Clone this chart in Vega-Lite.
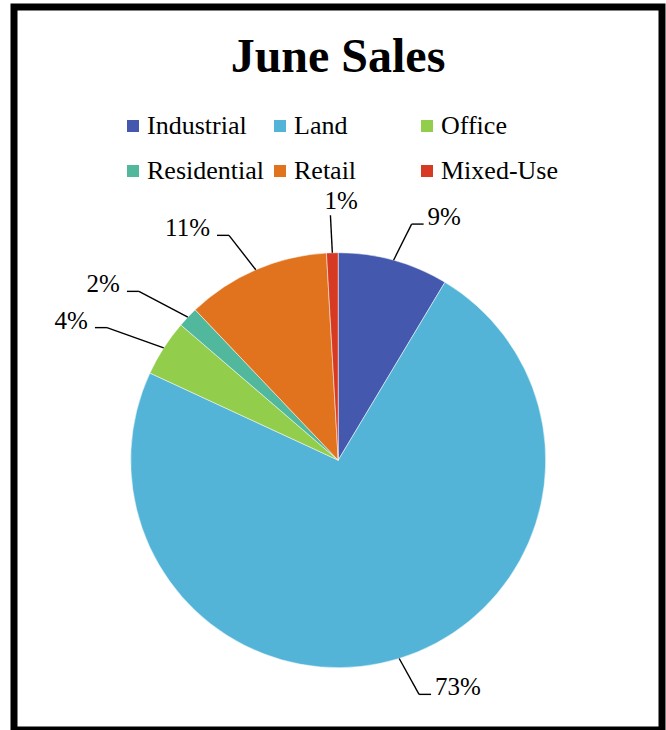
{
  "$schema": "https://vega.github.io/schema/vega-lite/v6.json",
  "width": 648,
  "height": 723,
  "autosize": {"type": "none"},
  "padding": {"left": 14, "top": 7, "right": 4, "bottom": 0},
  "background": "white",
  "title": {
    "text": "June Sales",
    "font": "Liberation Serif, Times New Roman, serif",
    "fontSize": 48,
    "fontWeight": "bold",
    "color": "black",
    "anchor": "middle",
    "frame": "group",
    "baseline": "alphabetic",
    "offset": 0,
    "dy": 113
  },
  "data": {
    "values": [
      {"category": "Industrial", "share": 0.086},
      {"category": "Land", "share": 0.733},
      {"category": "Office", "share": 0.044},
      {"category": "Residential", "share": 0.016},
      {"category": "Retail", "share": 0.112},
      {"category": "Mixed-Use", "share": 0.009}
    ]
  },
  "transform": [
    {"window": [{"op": "row_number", "as": "n"}, {"op": "sum", "field": "share", "as": "cum"}], "frame": [null, 0]},
    {"calculate": "(datum.cum - datum.share / 2) * 2 * PI", "as": "a"},
    {"calculate": "sin(datum.a)", "as": "s"},
    {"calculate": "cos(datum.a)", "as": "c"},
    {"calculate": "207.5 * datum.s", "as": "x0"},
    {"calculate": "207.5 * datum.c", "as": "y0"},
    {"calculate": "275 * datum.s", "as": "x1"},
    {"calculate": "245 * datum.c", "as": "y1"},
    {"calculate": "datum.s > 0.1 ? 1 : (datum.s < -0.1 ? -1 : 0)", "as": "side"},
    {"calculate": "datum.x1 + 12 * datum.side", "as": "x2"},
    {"calculate": "datum.side == 0 ? datum.x1 - 6 : (datum.side > 0 ? datum.x2 + 4 : datum.x2 - 7)", "as": "tx"},
    {"calculate": "datum.side == 0 ? datum.y1 + 14 : datum.y1 + 7", "as": "ty"}
  ],
  "layer": [
    {
      "mark": {"type": "arc", "outerRadius": 207.5, "stroke": "white", "strokeWidth": 0.5},
      "encoding": {
        "x": {"datum": 0, "type": "quantitative", "scale": {"domain": [-324.2, 323.8], "nice": false, "zero": false}, "axis": null},
        "y": {"datum": 0, "type": "quantitative", "scale": {"domain": [-269.8, 453.2], "nice": false, "zero": false}, "axis": null},
        "theta": {"field": "share", "type": "quantitative", "stack": true},
        "order": {"field": "n", "type": "quantitative"},
        "color": {
          "field": "category",
          "type": "nominal",
          "scale": {
            "domain": ["Industrial", "Land", "Office", "Residential", "Retail", "Mixed-Use"],
            "range": ["#4459AE", "#53B4D8", "#92CD4B", "#52B89D", "#E1731E", "#D63A22"]
          },
          "legend": {
            "title": null,
            "orient": "none",
            "legendX": 106,
            "legendY": 106,
            "columns": 3,
            "direction": "horizontal",
            "gridAlign": "all",
            "columnPadding": 3,
            "rowPadding": 19,
            "padding": 0,
            "symbolType": "square",
            "symbolSize": 144,
            "symbolStrokeWidth": 0,
            "symbolOpacity": 1,
            "labelFont": "Liberation Serif, Times New Roman, serif",
            "labelFontSize": 26,
            "labelColor": "black",
            "labelOffset": 1,
            "labelLimit": 300
          }
        }
      }
    },
    {
      "mark": {"type": "rule", "color": "black", "strokeWidth": 1.4},
      "encoding": {
        "x": {"field": "x0", "type": "quantitative", "scale": {"domain": [-324.2, 323.8], "nice": false, "zero": false}, "axis": null},
        "y": {"field": "y0", "type": "quantitative", "scale": {"domain": [-269.8, 453.2], "nice": false, "zero": false}, "axis": null},
        "x2": {"field": "x1"},
        "y2": {"field": "y1"}
      }
    },
    {
      "transform": [{"filter": "datum.side != 0"}],
      "mark": {"type": "rule", "color": "black", "strokeWidth": 1.4},
      "encoding": {
        "x": {"field": "x1", "type": "quantitative", "scale": {"domain": [-324.2, 323.8], "nice": false, "zero": false}, "axis": null},
        "y": {"field": "y1", "type": "quantitative", "scale": {"domain": [-269.8, 453.2], "nice": false, "zero": false}, "axis": null},
        "x2": {"field": "x2"},
        "y2": {"field": "y1"}
      }
    },
    {
      "transform": [{"filter": "datum.side >= 0"}],
      "mark": {"type": "text", "align": "left", "baseline": "middle", "font": "Liberation Serif, Times New Roman, serif", "fontSize": 25, "color": "black"},
      "encoding": {
        "x": {"field": "tx", "type": "quantitative", "scale": {"domain": [-324.2, 323.8], "nice": false, "zero": false}, "axis": null},
        "y": {"field": "ty", "type": "quantitative", "scale": {"domain": [-269.8, 453.2], "nice": false, "zero": false}, "axis": null},
        "text": {"field": "share", "type": "quantitative", "format": ".0%"}
      }
    },
    {
      "transform": [{"filter": "datum.side < 0"}],
      "mark": {"type": "text", "align": "right", "baseline": "middle", "font": "Liberation Serif, Times New Roman, serif", "fontSize": 25, "color": "black"},
      "encoding": {
        "x": {"field": "tx", "type": "quantitative", "scale": {"domain": [-324.2, 323.8], "nice": false, "zero": false}, "axis": null},
        "y": {"field": "ty", "type": "quantitative", "scale": {"domain": [-269.8, 453.2], "nice": false, "zero": false}, "axis": null},
        "text": {"field": "share", "type": "quantitative", "format": ".0%"}
      }
    }
  ],
  "config": {
    "view": {"stroke": "black", "strokeWidth": 7, "fill": "white"}
  }
}
